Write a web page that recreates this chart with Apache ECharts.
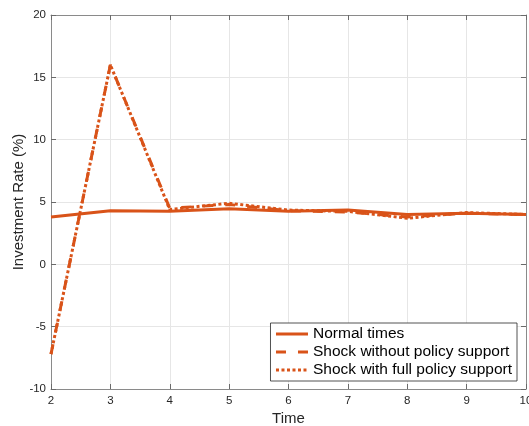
<!DOCTYPE html>
<html><head><meta charset="utf-8">
<script src="https://cdn.jsdelivr.net/npm/echarts@6/dist/echarts.min.js"></script>
<style>html,body{margin:0;padding:0;background:#fff}#c{width:529px;height:426px}</style>
</head><body><div id="c"></div>
<script>
const time = [2, 3, 4, 5, 6, 7, 8, 9, 10];
const normalTimes = [3.8, 4.3, 4.25, 4.45, 4.25, 4.35, 4.0, 4.1, 4.0];
const shockNoPolicy = [-7.2, 16.0, 4.5, 4.8, 4.3, 4.2, 3.8, 4.1, 4.0];
const shockFullPolicy = [-7.2, 16.0, 4.4, 4.9, 4.35, 4.25, 3.7, 4.15, 4.0];
const seriesNames = ['Normal times', 'Shock without policy support', 'Shock with full policy support'];
const color = '#D95319';
const pair = (ys) => time.map((t, i) => [t, ys[i]]);
const chart = echarts.init(document.getElementById('c'));
const font = 'Helvetica, Arial, "Liberation Sans", sans-serif';
const axisCommon = {
  axisLine: { show: true, onZero: false, lineStyle: { color: '#8a8a8a', width: 1 } },
  axisTick: { show: true, inside: true, length: 5, lineStyle: { color: '#6a6a6a', width: 1 } },
};
chart.setOption({
  animation: false,
  grid: { left: 51, right: 3, top: 15, bottom: 37, show: false, containLabel: false, outerBoundsMode: 'none' },
  xAxis: [
    Object.assign({ type: 'value', min: 2, max: 10, interval: 1, name: 'Time', nameLocation: 'middle', nameGap: 22,
      nameMoveOverlap: false,
      nameTextStyle: { fontSize: 15, color: '#262626', fontFamily: font },
      axisLabel: { fontSize: 11.5, color: '#262626', fontFamily: font, margin: 6 },
      splitLine: { show: true, lineStyle: { color: '#e6e6e6', width: 1 } } }, axisCommon),
    Object.assign({ type: 'value', min: 2, max: 10, interval: 1, position: 'top', axisLabel: { show: false }, splitLine: { show: false } }, axisCommon)
  ],
  yAxis: [
    Object.assign({ type: 'value', min: -10, max: 20, interval: 5, name: 'Investment Rate (%)', nameLocation: 'middle', nameGap: 25,
      nameMoveOverlap: false,
      nameTextStyle: { fontSize: 15, color: '#262626', fontFamily: font },
      axisLabel: { fontSize: 11.5, color: '#262626', fontFamily: font, margin: 5 },
      splitLine: { show: true, lineStyle: { color: '#e6e6e6', width: 1 } } }, axisCommon),
    Object.assign({ type: 'value', min: -10, max: 20, interval: 5, position: 'right', axisLabel: { show: false }, splitLine: { show: false } }, axisCommon)
  ],
  legend: {
    orient: 'vertical', right: 12, bottom: 45, itemWidth: 32, itemHeight: 14, itemGap: 2, align: 'left',
    backgroundColor: '#fff', borderColor: '#262626', borderWidth: 0.8, borderRadius: 0, padding: [3, 5, 3, 4],
    textStyle: { fontSize: 15.5, color: '#000', fontFamily: font },
    itemStyle: { opacity: 0 },
    lineStyle: { width: 3 },
    data: seriesNames
  },
  series: [
    { name: seriesNames[0], type: 'line', data: pair(normalTimes), symbol: 'none', lineStyle: { color: color, width: 3 }, itemStyle: { color: color } },
    { name: seriesNames[1], type: 'line', data: pair(shockNoPolicy), symbol: 'none', lineStyle: { color: color, width: 3, type: [10, 12] }, itemStyle: { color: color } },
    { name: seriesNames[2], type: 'line', data: pair(shockFullPolicy), symbol: 'none', lineStyle: { color: color, width: 3, type: [3, 2.5] }, itemStyle: { color: color } }
  ]
});
</script></body></html>
